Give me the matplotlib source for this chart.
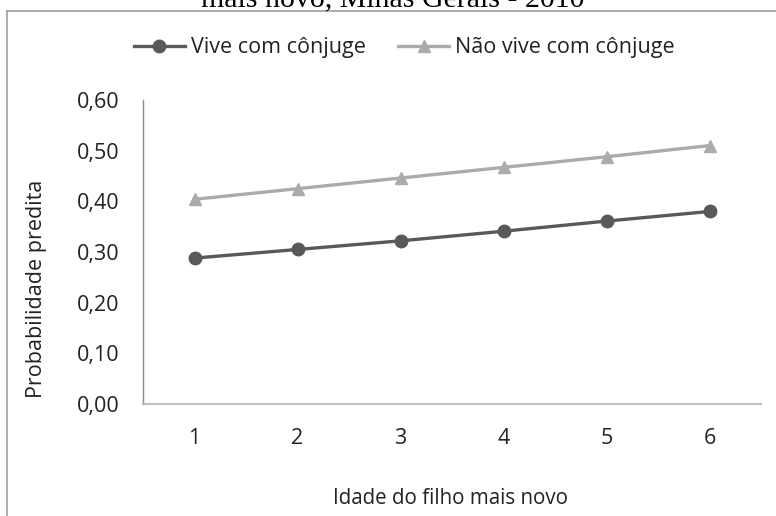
import matplotlib
matplotlib.use("Agg")
import matplotlib.pyplot as plt
from matplotlib.lines import Line2D

# Predicted probability by age of youngest child
idade = [1, 2, 3, 4, 5, 6]
vive_conjuge = [0.288, 0.305, 0.322, 0.341, 0.361, 0.380]
nao_vive_conjuge = [0.404, 0.425, 0.446, 0.467, 0.488, 0.510]
y_ticks = [0.0, 0.1, 0.2, 0.3, 0.4, 0.5, 0.6]
y_labels = ["0,00", "0,10", "0,20", "0,30", "0,40", "0,50", "0,60"]

FONT = "Open Sans"
TXT = "#222222"
DARK = "#595959"
LIGHT = "#ababab"
FS = 15.5

W, H = 776, 516
fig = plt.figure(figsize=(W / 100, H / 100), dpi=100)

ax = fig.add_axes([143 / W, (H - 404) / H, (761 - 143) / W, (404 - 100) / H])
ax.plot(idade, vive_conjuge, color=DARK, lw=2.4, marker="o", ms=9,
        label="Vive com cônjuge")
ax.plot(idade, nao_vive_conjuge, color=LIGHT, lw=2.4, marker="^", ms=9,
        label="Não vive com cônjuge")

ax.set_xlim(0.5, 6.5)
ax.set_ylim(0, 0.6)
ax.set_xticks(idade)
ax.set_xticklabels([str(i) for i in idade], fontsize=FS, family=FONT, color=TXT)
ax.set_yticks(y_ticks)
ax.set_yticklabels(y_labels, fontsize=FS, family=FONT, color=TXT)
ax.tick_params(axis="both", length=0)
ax.tick_params(axis="y", pad=17)
ax.tick_params(axis="x", pad=17)
for s in ("top", "right"):
    ax.spines[s].set_visible(False)
ax.spines["left"].set_color("#8c8c8c")
ax.spines["left"].set_linewidth(1.0)
ax.spines["bottom"].set_color("#bfbfbf")
ax.spines["bottom"].set_linewidth(1.5)

fig.text(37 / W, 1 - 289 / H, "Probabilidade predita", rotation=90,
         ha="center", va="center", fontsize=FS, family=FONT, color=TXT)
fig.text(450 / W, 1 - 499 / H, "Idade do filho mais novo",
         ha="center", va="center", fontsize=14.8, family=FONT, color=TXT)

# title line, partly above the top edge
fig.text(393 / W, 1 - 6 / H, "mais novo, Minas Gerais - 2010",
         ha="center", va="baseline", fontsize=21.5, family="Liberation Serif",
         color="black")

# chart frame
fig.add_artist(Line2D([7 / W, 7 / W], [0, 1 - 11 / H], transform=fig.transFigure,
                      color="#a0a0a0", lw=1.2))
fig.add_artist(Line2D([7 / W, 1], [1 - 11 / H, 1 - 11 / H], transform=fig.transFigure,
                      color="#a0a0a0", lw=1.2))

leg = fig.legend(loc="center", bbox_to_anchor=(404 / W, 1 - 48 / H), ncol=2,
                 frameon=False, prop={"family": FONT, "size": FS},
                 handlelength=2.4, columnspacing=1.5, handletextpad=0.25)
for t in leg.get_texts():
    t.set_color(TXT)

fig.savefig("out.png", dpi=100)
